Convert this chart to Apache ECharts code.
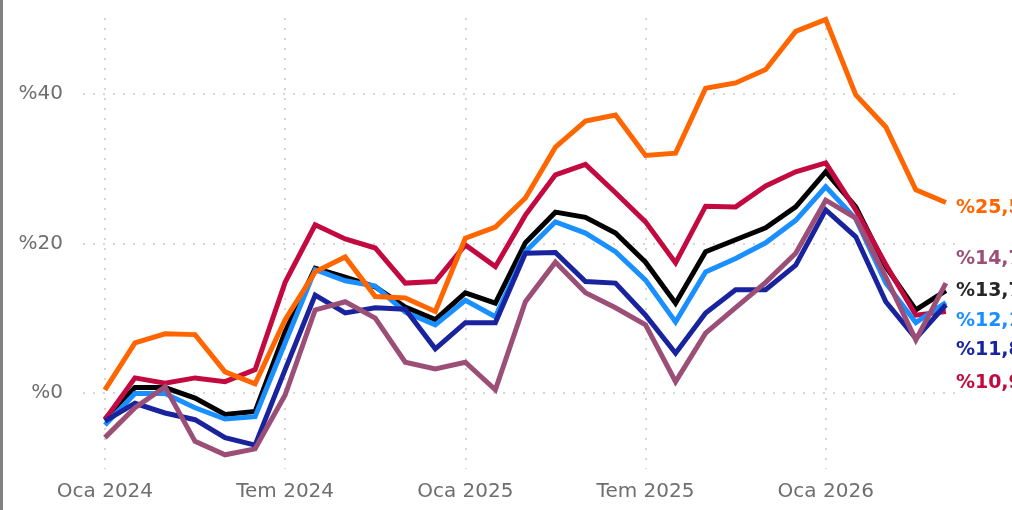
<!DOCTYPE html>
<html>
<head>
<meta charset="utf-8">
<script src="https://cdn.jsdelivr.net/npm/echarts@6/dist/echarts.min.js"></script>
<style>
  html, body { margin: 0; padding: 0; background: #fff; }
  #chart { width: 1012px; height: 510px; }
</style>
</head>
<body>
<div id="chart"></div>
<script>
var months = ['2024-01','2024-02','2024-03','2024-04','2024-05','2024-06','2024-07','2024-08','2024-09','2024-10','2024-11','2024-12',
              '2025-01','2025-02','2025-03','2025-04','2025-05','2025-06','2025-07','2025-08','2025-09','2025-10','2025-11','2025-12',
              '2026-01','2026-02','2026-03','2026-04','2026-05'];
var tickIndex = [0, 6, 12, 18, 24];
var tickLabels = ['Oca 2024', 'Tem 2024', 'Oca 2025', 'Tem 2025', 'Oca 2026'];
var yTicks = [0, 20, 40];

var orange = [0.4, 6.7, 7.9, 7.8, 2.8, 1.2, 9.8, 16.2, 18.2, 12.9, 12.7, 10.9, 20.7, 22.2, 26.1, 32.9, 36.4, 37.2, 31.8, 32.1, 40.8, 41.5, 43.3, 48.4, 50.0, 39.9, 35.6, 27.2, 25.5];
var crimson = [-3.6, 2.0, 1.3, 2.0, 1.5, 3.1, 14.8, 22.5, 20.6, 19.4, 14.7, 14.9, 19.8, 16.9, 23.8, 29.2, 30.6, 26.8, 22.9, 17.4, 25.0, 24.9, 27.7, 29.6, 30.8, 24.5, 17.2, 10.4, 10.9];
var black = [-3.5, 0.7, 0.7, -0.7, -2.9, -2.5, 8.2, 16.7, 15.5, 14.2, 11.5, 9.8, 13.4, 12.0, 20.1, 24.2, 23.5, 21.4, 17.5, 12.0, 18.9, 20.5, 22.1, 24.9, 29.6, 24.9, 16.9, 11.1, 13.7];
var lightBlue = [-4.3, -0.1, -0.1, -2.0, -3.5, -3.2, 6.7, 16.5, 15.0, 14.3, 10.8, 9.1, 12.4, 10.2, 18.9, 22.9, 21.4, 18.9, 15.1, 9.5, 16.2, 18.0, 20.1, 23.1, 27.6, 23.3, 14.7, 9.4, 12.1];
var navy = [-3.8, -1.4, -2.7, -3.6, -6.0, -7.0, 3.1, 13.1, 10.7, 11.4, 11.2, 5.9, 9.4, 9.4, 18.7, 18.8, 14.9, 14.7, 10.4, 5.3, 10.7, 13.8, 13.8, 17.1, 24.5, 20.9, 12.2, 7.3, 11.8];
var mauve = [-6.0, -2.0, 0.8, -6.5, -8.3, -7.5, -0.3, 11.1, 12.2, 10.0, 4.1, 3.2, 4.1, 0.4, 12.2, 17.5, 13.4, 11.4, 9.1, 1.5, 8.0, 11.4, 14.8, 18.7, 25.8, 23.4, 15.5, 7.1, 14.7];

var seriesDefs = [
    { name: 'black', data: black, color: '#000000', labelColor: '#262626', dy: 1 },
    { name: 'crimson', data: crimson, color: '#c20a40', labelColor: '#c20a40', dy: 72 },
    { name: 'lightBlue', data: lightBlue, color: '#1a8fff', labelColor: '#1a8fff', dy: 19 },
    { name: 'navy', data: navy, color: '#1a239e', labelColor: '#1a239e', dy: 45 },
    { name: 'orange', data: orange, color: '#ff6600', labelColor: '#ff6600', dy: 6 },
    { name: 'mauve', data: mauve, color: '#9b4f77', labelColor: '#9b4f77', dy: -24 }
];

function pairs(arr) {
    return arr.map(function (v, i) { return [i, v]; });
}

function pct(v) {
    return '%' + v.toFixed(1).replace('.', ',');
}

var dom = document.getElementById('chart');
var myChart = echarts.init(dom);

var option = {
    animation: false,
    graphic: [{
        type: 'rect',
        left: 0,
        top: 0,
        shape: { width: 3, height: 510 },
        style: { fill: '#808080' }
    }],
    grid: {
        left: 83,
        right: 49,
        top: 18,
        bottom: 41
    },
    xAxis: {
        type: 'value',
        min: -0.73,
        max: 28.57,
        axisLine: { show: false },
        axisTick: { show: false, customValues: tickIndex },
        axisLabel: {
            customValues: tickIndex,
            margin: 13,
            color: '#6e6e6e',
            fontFamily: 'DejaVu Sans',
            fontSize: 20,
            formatter: function (v) {
                return tickLabels[tickIndex.indexOf(Math.round(v))] || '';
            }
        },
        splitLine: {
            show: true,
            lineStyle: { color: '#c8c8c8', width: 1.5, type: [2, 8] }
        }
    },
    yAxis: {
        type: 'value',
        min: -10.2,
        max: 50.2,
        axisLine: { show: false },
        axisTick: { show: false, customValues: yTicks },
        axisLabel: {
            customValues: yTicks,
            margin: 20,
            color: '#6e6e6e',
            fontFamily: 'DejaVu Sans',
            fontSize: 20,
            formatter: function (v) { return '%' + Math.round(v); }
        },
        splitLine: {
            show: true,
            lineStyle: { color: '#c8c8c8', width: 1.5, type: [2, 8] }
        }
    },
    series: seriesDefs.map(function (s) {
        return {
            name: s.name,
            type: 'line',
            data: pairs(s.data),
            symbol: 'none',
            clip: false,
            lineStyle: { color: s.color, width: 5, join: 'miter' },
            itemStyle: { color: s.color },
            endLabel: {
                show: true,
                distance: 10,
                offset: [0, s.dy],
                color: s.labelColor,
                fontFamily: 'DejaVu Sans',
                fontWeight: 'bold',
                fontSize: 19,
                formatter: function (p) { return pct(p.value[1]); }
            }
        };
    })
};

if (option && typeof option === 'object') {
    myChart.setOption(option, true);
}

window.onresize = function () {
    myChart.resize();
};
</script>
</body>
</html>
